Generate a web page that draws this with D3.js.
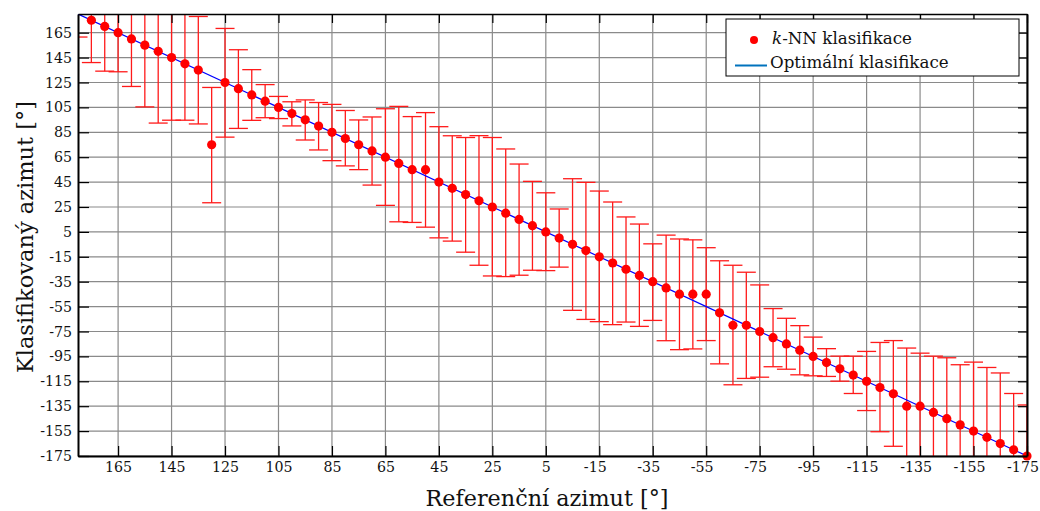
<!DOCTYPE html>
<html><head><meta charset="utf-8">
<script src="https://cdn.jsdelivr.net/npm/d3@7"></script>
<style>body{margin:0;background:#fff} svg{display:block}</style>
</head><body><svg id="c" width="1040" height="511"></svg>
<script>
// Reference azimuth (x), classified azimuth (marker), error-bar upper and lower bounds
const refAz = [180,175,170,165,160,155,150,145,140,135,130,125,120,115,110,105,100,95,90,85,80,75,70,65,60,55,50,45,40,35,30,25,20,15,10,5,0,-5,-10,-15,-20,-25,-30,-35,-40,-45,-50,-55,-60,-65,-70,-75,-80,-85,-90,-95,-100,-105,-110,-115,-120,-125,-130,-135,-140,-145,-150,-155,-160,-165,-170,-175];
const classAz = [-180,175,170,165,160,155,150,145,140,135,75,125,120,115,110,105,100,95,90,85,80,75,70,65,60,55,55,45,40,35,30,25,20,15,10,5,0,-5,-10,-15,-20,-25,-30,-35,-40,-45,-45,-45,-60,-70,-70,-75,-80,-85,-90,-95,-100,-105,-110,-115,-120,-125,-135,-135,-140,-145,-150,-155,-160,-165,-170,-175];
const upperAz = [185,185,185,185,185,185,185,185,185,178,121,168.4,151.3,135.3,123.3,113.8,109.5,111,108.9,107.4,102.5,94.9,97.3,103.9,105.8,97.6,100.8,89.5,82.2,80.8,82.3,80.8,71.6,59.5,45.6,36.4,23.4,47.7,44.8,37.8,29,17,11.3,-4.6,2.4,-0.7,-1.4,-7.7,-18.2,-21.8,-27.4,-37.6,-56.6,-64.4,-70.3,-79.5,-88.8,-94.8,-94.8,-91,-83.8,-82.3,-88.3,-92.4,-94.8,-96.1,-101.7,-99.6,-103.9,-108.3,-124.8,-134];
const lowerAz = [161.5,141,134.1,133.6,121.8,105.4,92.4,94.7,94.7,91.7,28.4,81.1,88.1,94.6,96.7,96,90.1,78.8,70.8,62.2,58,55,42.6,26.3,13.1,12.6,8.8,0.2,-2.4,-11.3,-21.8,-30.4,-30.9,-29.8,-25.8,-26.1,-23.3,-58,-65.3,-67.1,-69.5,-67.4,-70.9,-66.1,-82.4,-89.6,-89,-82.3,-101,-117.8,-112.7,-111.7,-103.3,-105.3,-109.8,-110.6,-111.1,-114.9,-124.8,-138.5,-155.5,-167.2,-185,-185,-185,-185,-185,-185,-185,-185,-185,-185];
// Optimal classification line y = x, end points
const optimalAz = [180,-175];
const xTicks = [165,145,125,105,85,65,45,25,5,-15,-35,-55,-75,-95,-115,-135,-155,-175];
const yTicks = [165,145,125,105,85,65,45,25,5,-15,-35,-55,-75,-95,-115,-135,-155,-175];
const xTitle = "Referenční azimut [°]";
const yTitle = "Klasifikovaný azimut [°]";
const legendLabels = ["-NN klasifikace","Optimální klasifikace"];

const L=78, T=14, R=1027, B=456;
const FONT = "'DejaVu Serif', serif";
const x = d3.scaleLinear().domain([180,-175]).range([L,R]);
const y = d3.scaleLinear().domain([-175,180]).range([B,T]);
const svg = d3.select('#c');

svg.append('defs').append('clipPath').attr('id','clip')
  .append('rect').attr('x',L).attr('y',T).attr('width',R-L).attr('height',B-T);

// grid
const grid = svg.append('g');
grid.selectAll('line.vg').data(xTicks).join('line').attr('class','vg')
  .attr('x1',d=>x(d)).attr('x2',d=>x(d)).attr('y1',T).attr('y2',B)
  .attr('stroke','#8a8a8a').attr('stroke-width',1.2);
grid.selectAll('line.hg').data(yTicks).join('line').attr('class','hg')
  .attr('y1',d=>y(d)).attr('y2',d=>y(d)).attr('x1',L).attr('x2',R)
  .attr('stroke','#8a8a8a').attr('stroke-width',1.2);

// error bars
const rows = refAz.map((r,i)=>({r, c:classAz[i], u:upperAz[i], l:lowerAz[i]}));
const eb = svg.append('g').attr('clip-path','url(#clip)')
  .attr('stroke','#ff1a1a').attr('stroke-width',1.3).attr('fill','none');
const capW = 9.5;
const ebg = eb.selectAll('g').data(rows).join('g');
ebg.append('line').attr('x1',d=>x(d.r)).attr('x2',d=>x(d.r)).attr('y1',d=>y(d.u)).attr('y2',d=>y(d.l));
ebg.append('line').attr('x1',d=>x(d.r)-capW).attr('x2',d=>x(d.r)+capW).attr('y1',d=>y(d.u)).attr('y2',d=>y(d.u));
ebg.append('line').attr('x1',d=>x(d.r)-capW).attr('x2',d=>x(d.r)+capW).attr('y1',d=>y(d.l)).attr('y2',d=>y(d.l));

// optimal line
svg.append('path').datum(optimalAz).attr('clip-path','url(#clip)')
  .attr('d', d3.line().x(d=>x(d)).y(d=>y(d)))
  .attr('stroke','#0000ff').attr('stroke-width',1.2).attr('fill','none');

// markers (drawn only if centre inside axes)
svg.append('g').selectAll('circle').data(rows.filter(d=>d.c>=-175 && d.c<=180 && d.r<=180 && d.r>=-175))
  .join('circle').attr('cx',d=>x(d.r)).attr('cy',d=>y(d.c)).attr('r',4.6).attr('fill','#ff0000');

// axes
const ax = svg.append('g').attr('font-family',FONT);
const axBottom = ax.append('g').attr('transform',`translate(0,${B})`)
  .call(d3.axisBottom(x).tickValues(xTicks).tickSize(-10).tickSizeOuter(0).tickPadding(6).tickFormat(d=>d));
const axLeft = ax.append('g').attr('transform',`translate(${L},0)`)
  .call(d3.axisLeft(y).tickValues(yTicks).tickSize(-11).tickSizeOuter(0).tickPadding(6).tickFormat(d=>d));
const axTop = ax.append('g').attr('transform',`translate(0,${T})`)
  .call(d3.axisTop(x).tickValues(xTicks).tickSize(-9).tickSizeOuter(0).tickFormat(''));
const axRight = ax.append('g').attr('transform',`translate(${R},0)`)
  .call(d3.axisRight(y).tickValues(yTicks).tickSize(-9).tickSizeOuter(0).tickFormat(''));
[axBottom,axLeft,axTop,axRight].forEach(g=>{
  g.selectAll('text').attr('font-family',FONT).attr('font-size',14.2).attr('fill','#111');
  g.selectAll('.tick line').attr('stroke','#000').attr('stroke-width',1.2);
  g.select('.domain').attr('stroke','#000');
});
axBottom.selectAll('.tick text').attr('dx',d=>d<0 ? -4.5 : 0);
axBottom.select('.domain').attr('stroke-width',2);
axLeft.select('.domain').attr('stroke-width',2);
axRight.select('.domain').attr('stroke-width',2);
axTop.select('.domain').attr('stroke-width',1.5);

// titles
svg.append('text').attr('x',547).attr('y',506).attr('text-anchor','middle')
  .attr('font-family',FONT).attr('font-size',22.3).attr('fill','#111').text(xTitle);
svg.append('text').attr('transform',`translate(33,237) rotate(-90)`).attr('text-anchor','middle')
  .attr('font-family',FONT).attr('font-size',22.5).attr('fill','#111').text(yTitle);

// legend
const lg = svg.append('g');
lg.append('rect').attr('x',726).attr('y',19).attr('width',293).attr('height',57)
  .attr('fill','#fff').attr('stroke','#000').attr('stroke-width',1);
lg.append('circle').attr('cx',754).attr('cy',40).attr('r',4).attr('fill','#ff0000');
const t1 = lg.append('text').attr('x',772).attr('y',43.5).attr('font-family',FONT).attr('font-size',16.7).attr('fill','#111');
t1.append('tspan').attr('font-style','italic').text('k');
t1.append('tspan').text(legendLabels[0]);
lg.append('line').attr('x1',735).attr('x2',767).attr('y1',65.5).attr('y2',65.5).attr('stroke','#0072bd').attr('stroke-width',2);
lg.append('text').attr('x',770).attr('y',68).attr('font-family',FONT).attr('font-size',16.7).attr('fill','#111').text(legendLabels[1]);
</script>
</body></html>
